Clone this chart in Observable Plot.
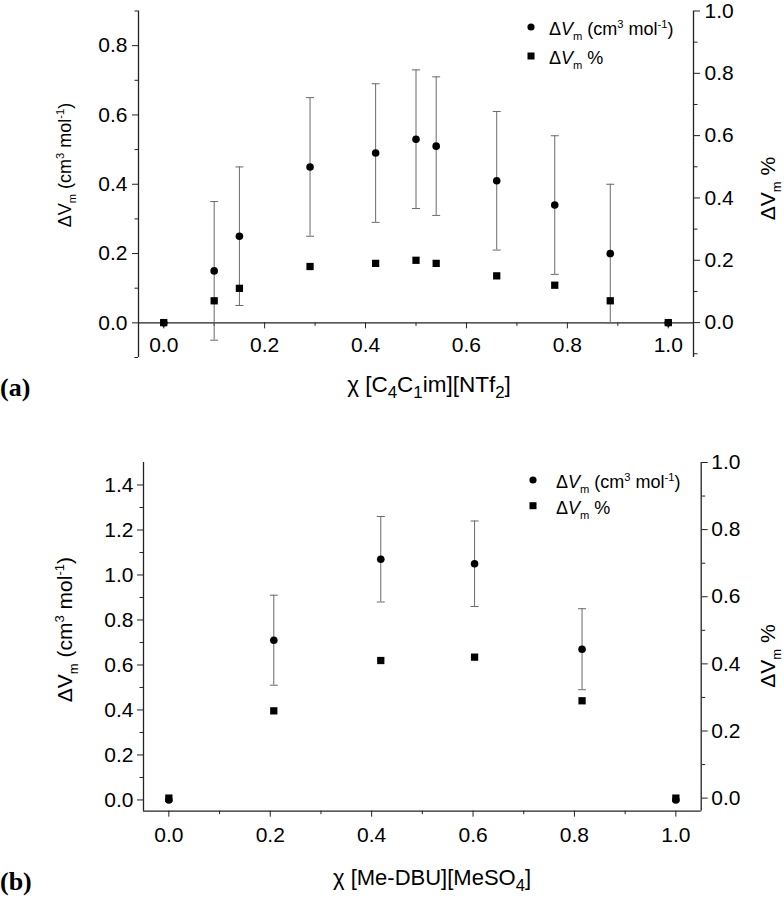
<!DOCTYPE html>
<html><head><meta charset="utf-8">
<script src="https://cdn.jsdelivr.net/npm/d3@7"></script>
<script src="https://cdn.jsdelivr.net/npm/@observablehq/plot@0.6"></script>
<style>
body{margin:0;background:#fff;font-family:"Liberation Sans",Arial,sans-serif;}
.panel{position:relative;width:784px;overflow:visible;}
.panel svg{position:absolute;left:0;top:0;overflow:visible;}
</style></head><body>
<div id="pa" class="panel" style="height:400px"></div>
<div id="pb" class="panel" style="height:500px"></div>
<script>
// ---------- Panel (a): [C4C1im][NTf2] ----------
const xA   = [0, 0.10, 0.15, 0.29, 0.42, 0.50, 0.54, 0.66, 0.775, 0.885, 1.0];
const dvmA = [0, 0.15, 0.25, 0.45, 0.49, 0.53, 0.51, 0.41, 0.34, 0.20, 0];
const errA = [0, 0.20, 0.20, 0.20, 0.20, 0.20, 0.20, 0.20, 0.20, 0.20, 0];
const pctA = [0, 0.07, 0.11, 0.18, 0.19, 0.20, 0.19, 0.15, 0.12, 0.07, 0];
// ---------- Panel (b): [Me-DBU][MeSO4] ----------
const xB   = [0, 0.207, 0.418, 0.603, 0.815, 1.0];
const dvmB = [0, 0.71, 1.07, 1.05, 0.67, 0];
const errB = [0, 0.20, 0.19, 0.19, 0.18, 0];
const pctB = [0, 0.26, 0.41, 0.42, 0.29, 0];
// ---------- ticks ----------
const xTicks  = [0, 0.2, 0.4, 0.6, 0.8, 1.0];
const xMinor  = [0.1, 0.3, 0.5, 0.7, 0.9];
const yTicksA = [0, 0.2, 0.4, 0.6, 0.8];
const yMinorA = [-0.1, 0.1, 0.3, 0.5, 0.7, 0.9];
const rTicksA = [0, 0.2, 0.4, 0.6, 0.8, 1.0];
const rMinorA = [-0.1, 0.1, 0.3, 0.5, 0.7, 0.9];
const yTicksB = [0, 0.2, 0.4, 0.6, 0.8, 1.0, 1.2, 1.4];
const yMinorB = [0.1, 0.3, 0.5, 0.7, 0.9, 1.1, 1.3];
const rTicksB = [0, 0.2, 0.4, 0.6, 0.8, 1.0];
const rMinorB = [0.1, 0.3, 0.5, 0.7, 0.9];

const FONT = "Liberation Sans, Arial, Helvetica, sans-serif";
const fmt = d3.format(".1f");
const AX = "#222", EB = "#6a6a6a";
const cap = {draw(ctx, size) { const r = Math.sqrt(size / Math.PI); ctx.moveTo(-r, 0); ctx.lineTo(r, 0); }};

function rich(svg, {x, y, rotate = 0, anchor = "middle", size, parts, family = FONT, weight = "normal", sc = 0.62}) {
  const t = d3.select(svg).append("text")
    .attr("transform", `translate(${x},${y}) rotate(${rotate})`)
    .attr("text-anchor", anchor).attr("font-size", size)
    .attr("font-family", family).attr("font-weight", weight).attr("fill", "#000");
  let shift = 0;
  for (const p of parts) {
    const target = p.sub ? 0.28 * size : p.sup ? -0.38 * size : 0;
    const ts = t.append("tspan").text(p.t).attr("dy", target - shift);
    shift = target;
    if (p.sub || p.sup) ts.attr("font-size", size * (p.sc || sc));
    if (p.it) ts.attr("font-style", "italic");
  }
}

function panel(cfg) {
  const {el, H, mt, mb, ml, mr, xDom, yDom, rDom, xs, ys, es, ps, zeroAxis, fs, xPad, yPad} = cfg;
  const W = 784;
  const rows = xs.map((x, i) => ({x, v: ys[i], e: es[i], p: ps[i]}));
  const errRows = rows.filter(d => d.e > 0).map(d => ({x: d.x, lo: d.v - d.e, hi: d.v + d.e}));
  const plotH = H - mt - mb;
  const dy = zeroAxis ? -plotH * (0 - yDom[0]) / (yDom[1] - yDom[0]) : 0;
  const base = {width: W, height: H, marginTop: mt, marginBottom: mb, marginLeft: ml, marginRight: mr,
    style: {fontFamily: FONT, fontSize: fs + "px", color: "#000", background: "none", overflow: "visible"}};
  const main = Plot.plot({...base, x: {domain: xDom}, y: {domain: yDom},
    marks: [
      Plot.ruleX([xDom[0]], {stroke: AX, strokeWidth: 1.3}),
      Plot.ruleY([zeroAxis ? 0 : yDom[0]], {stroke: AX, strokeWidth: 1.3}),
      Plot.axisY(cfg.yTicks, {tickSize: 6, tickPadding: yPad, tickFormat: fmt, fontSize: fs, stroke: AX, fill: "#000", label: null}),
      Plot.axisY(cfg.yMinor, {tickSize: 3.5, tickFormat: () => "", stroke: AX, label: null}),
      Plot.axisX(xTicks, {tickSize: 6, tickPadding: xPad, tickFormat: fmt, fontSize: fs, stroke: AX, fill: "#000", dy, label: null}),
      Plot.axisX(xMinor, {tickSize: 3.5, tickFormat: () => "", stroke: AX, dy, label: null}),
      Plot.ruleX(errRows, {x: "x", y1: "lo", y2: "hi", stroke: EB, strokeWidth: 1}),
      Plot.dot(errRows, {x: "x", y: "hi", symbol: cap, r: 4, stroke: EB, strokeWidth: 1, fill: "none"}),
      Plot.dot(errRows, {x: "x", y: "lo", symbol: cap, r: 4, stroke: EB, strokeWidth: 1, fill: "none"}),
      Plot.dot(rows, {x: "x", y: "v", r: 3.8, fill: "#000", stroke: "none"})
    ]});
  const over = Plot.plot({...base, x: {domain: xDom, axis: null}, y: {domain: rDom},
    marks: [
      Plot.ruleX([xDom[1]], {stroke: AX, strokeWidth: 1.3}),
      Plot.axisY(cfg.rTicks, {anchor: "right", tickSize: 6, tickPadding: yPad, tickFormat: fmt, fontSize: fs, stroke: AX, fill: "#000", label: null}),
      Plot.axisY(cfg.rMinor, {anchor: "right", tickSize: 3.5, tickFormat: () => "", stroke: AX, label: null}),
      Plot.dot(rows, {x: "x", y: "p", symbol: "square", r: 4.1, fill: "#000", stroke: "none"})
    ]});
  const host = document.getElementById(el);
  host.appendChild(main);
  host.appendChild(over);
  return {main, over};
}

// ----- Panel (a)
const A = panel({el: "pa", H: 400, mt: 10.5, mb: 43, ml: 138, mr: 91,
  xDom: [-0.05, 1.05], yDom: [-0.1, 0.9], rDom: [-0.112, 1.0],
  xs: xA, ys: dvmA, es: errA, ps: pctA, zeroAxis: true, fs: 21, xPad: 8, yPad: 5,
  yTicks: yTicksA, yMinor: yMinorA, rTicks: rTicksA, rMinor: rMinorA});
// ----- Panel (b)
const B = panel({el: "pb", H: 500, mt: 62, mb: 89.3, ml: 143, mr: 83.3,
  xDom: [-0.05, 1.05], yDom: [-0.05, 1.5], rDom: [-0.039, 1.0],
  xs: xB, ys: dvmB, es: errB, ps: pctB, zeroAxis: false, fs: 21, xPad: 10, yPad: 4,
  yTicks: yTicksB, yMinor: yMinorB, rTicks: rTicksB, rMinor: rMinorB});

// ----- Text: titles, legends, panel letters
const leftTitle = [{t: "ΔV"}, {t: "m", sub: true}, {t: " (cm"}, {t: "3", sup: true}, {t: " mol"}, {t: "-1", sup: true}, {t: ")"}];
const rightTitle = [{t: "ΔV"}, {t: "m", sub: true}, {t: " %"}];
const leg1 = [{t: "Δ"}, {t: "V", it: true}, {t: "m", sub: true}, {t: " (cm"}, {t: "3", sup: true}, {t: " mol"}, {t: "-1", sup: true}, {t: ")"}];
const leg2 = [{t: "Δ"}, {t: "V", it: true}, {t: "m", sub: true}, {t: " %"}];

function texts(P, o) {
  const svg = P.over;
  rich(svg, {x: o.lx, y: o.ly, rotate: -90, size: o.lfs, parts: leftTitle});
  rich(svg, {x: 775, y: o.ry, rotate: -90, size: 21, parts: rightTitle});
  rich(svg, {x: o.xx, y: o.xy, size: o.xfs, parts: o.xparts, sc: 0.75});
  rich(svg, {x: 0, y: o.ty, anchor: "start", size: 26, family: "Liberation Serif, Times New Roman, serif", weight: "bold", parts: [{t: o.tag}]});
  const g = d3.select(svg);
  g.append("circle").attr("cx", o.legX).attr("cy", o.legY1).attr("r", 3.6).attr("fill", "#000");
  g.append("rect").attr("x", o.legX - 3.5).attr("y", o.legY2 - 3.5).attr("width", 7).attr("height", 7).attr("fill", "#000");
  rich(svg, {x: o.legT, y: o.legY1 + 8, anchor: "start", size: 18, parts: leg1});
  rich(svg, {x: o.legT, y: o.legY2 + 8, anchor: "start", size: 18, parts: leg2});
}
texts(A, {lx: 71, ly: 165, lfs: 18, ry: 188.5, xx: 429, xy: 392, xfs: 22.5, tag: "(a)", ty: 396,
  xparts: [{t: "χ [C"}, {t: "4", sub: true}, {t: "C"}, {t: "1", sub: true}, {t: "im][NTf"}, {t: "2", sub: true}, {t: "]"}],
  legX: 531, legY1: 27, legY2: 56, legT: 549});
texts(B, {lx: 72, ly: 229.6, lfs: 21, ry: 256, xx: 432, xy: 485, xfs: 22, tag: "(b)", ty: 490,
  xparts: [{t: "χ [Me-DBU][MeSO"}, {t: "4", sub: true}, {t: "]"}],
  legX: 533, legY1: 80, legY2: 105.7, legT: 556});
</script>
</body></html>
